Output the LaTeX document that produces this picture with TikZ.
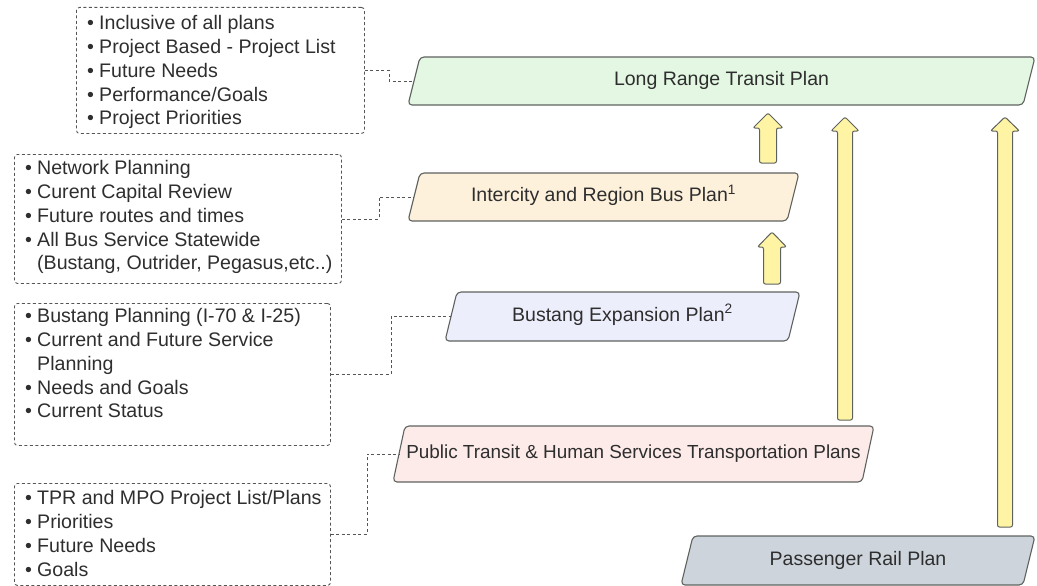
\documentclass[tikz,border=0pt]{standalone}
\usepackage{fontspec}
\setmainfont{Liberation Sans}
\definecolor{txt}{HTML}{2E2E2E}
\definecolor{edge}{HTML}{5E625E}
\definecolor{dashc}{HTML}{555555}
\definecolor{fgreen}{HTML}{E3F7E3}
\definecolor{forange}{HTML}{FDF1DC}
\definecolor{flav}{HTML}{EDEEFC}
\definecolor{fpink}{HTML}{FCEBE9}
\definecolor{fgray}{HTML}{CDD4DC}
\definecolor{fyellow}{HTML}{FFF4A3}
\newcommand\itm{\makebox[12pt][l]{•}}
\newcommand\ind{\hspace*{12pt}}
% name, xBL, xBR, ytop, ybot, fill, text
\newcommand\planshape[7]{%
  \draw[planbox, fill=#6] (#2,#5) -- ({#2+12},#4) -- ({#3+12},#4) -- (#3,#5) -- cycle;
  \node[plantext] (#1) at ({(#2+#3)/2+6},{(#4+#5)/2}) {#7};
  \coordinate (#1-w) at ({#2+6},{(#4+#5)/2});
}
% x, ytop, ybot, headhalf, shafthalf, headheight
\newcommand\blockarrow[6]{%
  \draw[blockarr] ({#1-#5},#3) -- ({#1-#5},{#2+#6}) -- ({#1-#4},{#2+#6}) -- (#1,#2)
    -- ({#1+#4},{#2+#6}) -- ({#1+#5},{#2+#6}) -- ({#1+#5},#3) -- cycle;
}
\begin{document}
\begin{tikzpicture}[x=1pt,y=-1pt,
  planbox/.style={draw=edge, line width=1.1pt, rounded corners=4pt},
  plantext/.style={inner sep=0pt, text=txt, font=\fontsize{19.5}{23}\selectfont, text height=13.5pt, text depth=4pt},
  notebox/.style={draw=dashc, line width=0.9pt, dash pattern=on 3pt off 2.5pt, rounded corners=3pt, anchor=north west, inner sep=0pt},
  notetext/.style={anchor=north west, inner sep=0pt, align=left, text=txt, font=\fontsize{19.6}{23.75}\selectfont},
  conn/.style={draw=dashc, line width=0.8pt, dash pattern=on 3pt off 2.5pt},
  blockarr/.style={draw=edge, line width=1pt, fill=fyellow, rounded corners=2pt}]
\useasboundingbox (0,0) rectangle (1037,586);

% plans
\planshape{lrtp}{408}{1023}{57}{105}{fgreen}{Long Range Transit Plan}
\planshape{irbp}{408}{787}{173}{221}{forange}{Intercity and Region Bus Plan\textsuperscript{1}}
\planshape{bep}{445}{788}{292}{341}{flav}{Bustang Expansion Plan\textsuperscript{2}}
\planshape{pthstp}{393}{862}{426}{482}{fpink}{\fontsize{18.9}{23}\selectfont Public Transit \& Human Services Transportation Plans}
\planshape{prp}{681}{1023}{536}{585}{fgray}{Passenger Rail Plan}

% note boxes
\node[notebox, minimum width=288pt, minimum height=126pt] (n1) at (76,7) {};
\node[notebox, minimum width=327pt, minimum height=129pt] (n2) at (14,154) {};
\node[notebox, minimum width=316pt, minimum height=142pt] (n3) at (14,303) {};
\node[notebox, minimum width=316pt, minimum height=102pt] (n4) at (14,483) {};

\node[notetext] (t1) at (87,13) {\strut\itm Inclusive of all plans\\ \itm Project Based - Project List\\ \itm Future Needs\\ \itm Performance/Goals\\ \itm Project Priorities};
\node[notetext] (t2) at (25,158) {\strut\itm Network Planning\\ \itm Curent Capital Review\\ \itm Future routes and times\\ \itm All Bus Service Statewide\\ \ind(Bustang, Outrider, Pegasus,etc..)};
\node[notetext] (t3) at (25,306) {\strut\itm Bustang Planning (I-70 \& I-25)\\ \itm Current and Future Service\\ \ind Planning\\ \itm Needs and Goals\\ \itm Current Status};
\node[notetext] (t4) at (25,488) {\strut\itm TPR and MPO Project List/Plans\\ \itm Priorities\\ \itm Future Needs\\ \itm Goals};

% dashed connectors
\draw[conn] (n1.east) -- ++(24,0) |- (lrtp-w);
\draw[conn] (n2.east) -- ++(37,0) |- (irbp-w);
\draw[conn] (n3.east) -- ++(60,0) |- (bep-w);
\draw[conn] (n4.east) -- ++(36,0) |- (pthstp-w);

% block arrows
\blockarrow{768}{113}{163}{15}{8.5}{15}
\blockarrow{772}{232}{284}{14.5}{8.5}{15}
\blockarrow{845}{117}{420}{14}{7.5}{14}
\blockarrow{1005}{117}{527}{14.5}{7.5}{14}
\end{tikzpicture}
\end{document}
